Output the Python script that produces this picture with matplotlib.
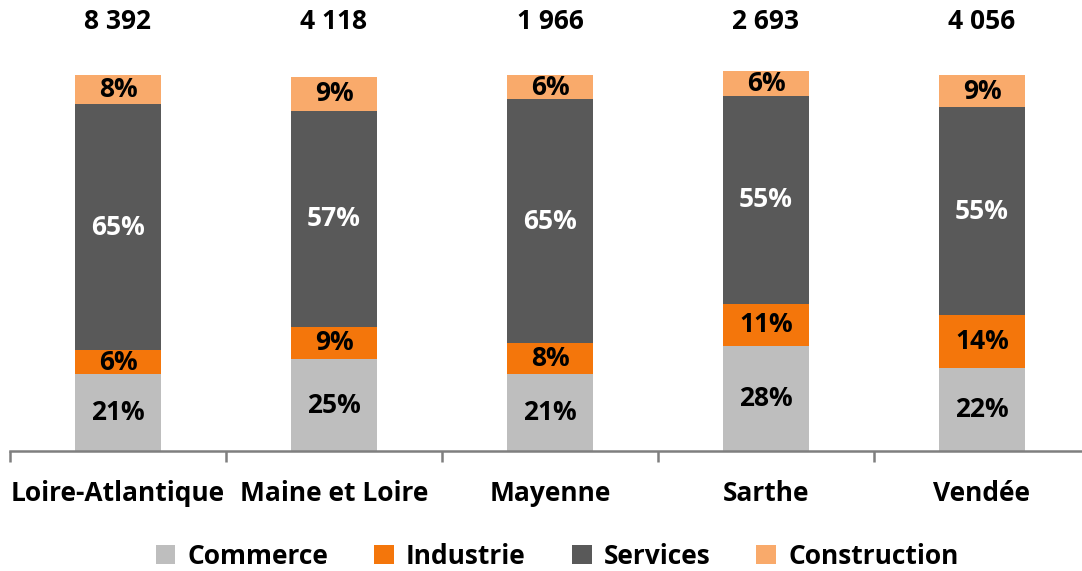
import matplotlib.pyplot as plt
import numpy as np

plt.rcParams['font.family'] = ['Open Sans', 'DejaVu Sans']
plt.rcParams['font.weight'] = 'bold'

departements = ["Loire-Atlantique", "Maine et Loire", "Mayenne", "Sarthe", "Vendée"]
totaux = ["8 392", "4 118", "1 966", "2 693", "4 056"]

# hauteurs (en %)
commerce = [20.4, 24.4, 20.4, 28.0, 22.0]
industrie = [6.5, 8.7, 8.2, 11.2, 14.2]
services = [65.3, 57.4, 64.9, 55.3, 55.2]
construction = [7.8, 9.0, 6.5, 6.5, 8.6]

# etiquettes affichees
lab_commerce = ["21%", "25%", "21%", "28%", "22%"]
lab_industrie = ["6%", "9%", "8%", "11%", "14%"]
lab_services = ["65%", "57%", "65%", "55%", "55%"]
lab_construction = ["8%", "9%", "6%", "6%", "9%"]

series = [
    ("Commerce", commerce, lab_commerce, "#BEBEBE", "black"),
    ("Industrie", industrie, lab_industrie, "#F4760B", "black"),
    ("Services", services, lab_services, "#595959", "white"),
    ("Construction", construction, lab_construction, "#F9AA6B", "black"),
]

W, H = 1082, 571
fig = plt.figure(figsize=(W / 100, H / 100), dpi=100)
ax = fig.add_axes([10 / W, 120 / H, 1080 / W, 451 / H])

x = np.arange(len(departements))
bottom = np.zeros(len(departements))
for name, vals, labs, col, tcol in series:
    vals = np.array(vals)
    ax.bar(x, vals, 0.4, bottom=bottom, color=col, label=name)
    for xi, b, v, t in zip(x, bottom, vals, labs):
        ax.text(xi, b + v / 2, t, ha="center", va="center", color=tcol,
                fontsize=19, fontweight="bold")
    bottom = bottom + vals

for xi, t in zip(x, totaux):
    ax.text(xi, 114.1, t, ha="center", va="center", color="black",
            fontsize=19, fontweight="bold")

ax.set_xlim(-0.5, 4.5)
ax.set_ylim(0, 451 / 3.76)
for s in ["top", "right", "left"]:
    ax.spines[s].set_visible(False)
ax.spines["bottom"].set_color("#7F7F7F")
ax.spines["bottom"].set_linewidth(1.8)
ax.set_yticks([])
ax.set_xticks(x)
ax.set_xticklabels(departements, fontsize=19, fontweight="bold")
ax.tick_params(axis="x", which="major", length=0, pad=21)
ax.set_xticks(np.arange(-0.5, 5, 1), minor=True)
ax.tick_params(axis="x", which="minor", length=8, width=1.8, color="#7F7F7F")

fig.legend(loc="center", bbox_to_anchor=(557 / W, 15 / H), ncol=4, frameon=False,
           fontsize=19, handlelength=0.75, handleheight=0.75, handletextpad=0.45,
           columnspacing=1.75)

fig.savefig("out.png", dpi=100)
